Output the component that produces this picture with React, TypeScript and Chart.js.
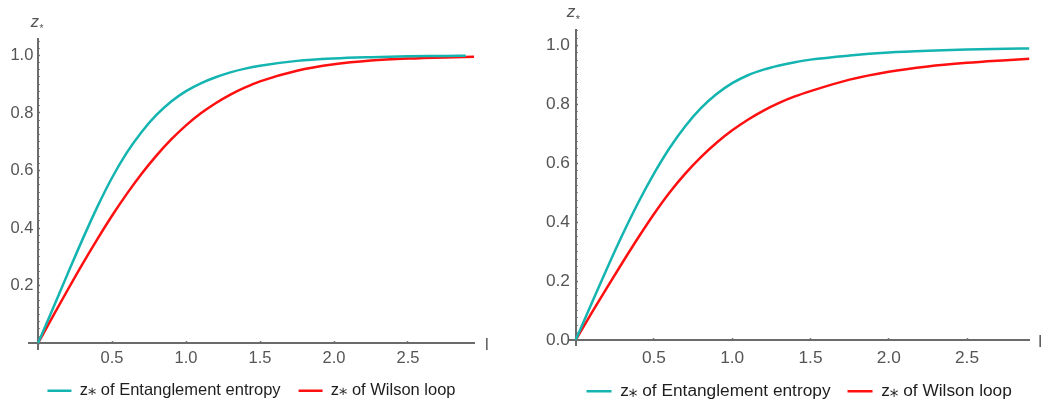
import React, { useEffect, useRef } from 'react';
import { Chart, registerables } from 'chart.js';

Chart.register(...registerables);

// ---------- data ----------
// Left panel
const leftEntL = [0, 0.1, 0.2, 0.3, 0.4, 0.5, 0.6, 0.7, 0.8, 0.9, 1.0, 1.1, 1.2, 1.3, 1.4, 1.5, 1.75, 2.0, 2.25, 2.5, 2.75, 2.89];
const leftEntZ = [0, 0.12, 0.241, 0.36, 0.473, 0.575, 0.662, 0.734, 0.793, 0.84, 0.876, 0.903, 0.924, 0.941, 0.954, 0.964, 0.981, 0.9895, 0.994, 0.997, 0.998, 0.999];
const leftWilL = [0, 0.1, 0.2, 0.3, 0.4, 0.5, 0.6, 0.7, 0.8, 0.9, 1.0, 1.1, 1.2, 1.3, 1.4, 1.5, 1.75, 2.0, 2.25, 2.5, 2.75, 2.95];
const leftWilZ = [0, 0.093, 0.185, 0.275, 0.361, 0.443, 0.519, 0.589, 0.652, 0.708, 0.757, 0.799, 0.834, 0.864, 0.889, 0.91, 0.947, 0.969, 0.982, 0.989, 0.993, 0.995];

// Right panel
const rightEntL = [0, 0.1, 0.2, 0.3, 0.4, 0.5, 0.6, 0.7, 0.8, 0.9, 1.0, 1.1, 1.2, 1.3, 1.4, 1.5, 1.75, 2.0, 2.25, 2.5, 2.75, 2.9];
const rightEntZ = [0, 0.122, 0.243, 0.359, 0.467, 0.565, 0.652, 0.726, 0.787, 0.835, 0.872, 0.899, 0.918, 0.932, 0.943, 0.952, 0.966, 0.976, 0.982, 0.986, 0.989, 0.99];
const rightWilL = [0, 0.1, 0.2, 0.3, 0.4, 0.5, 0.6, 0.7, 0.8, 0.9, 1.0, 1.1, 1.2, 1.3, 1.4, 1.5, 1.75, 2.0, 2.25, 2.5, 2.75, 2.9];
const rightWilZ = [0, 0.09, 0.178, 0.264, 0.348, 0.428, 0.501, 0.565, 0.621, 0.67, 0.712, 0.748, 0.779, 0.805, 0.827, 0.845, 0.884, 0.911, 0.929, 0.941, 0.95, 0.955];

// ticks & labels
const xTickValues = [0.5, 1.0, 1.5, 2.0, 2.5];
const xTickLabels = ['0.5', '1.0', '1.5', '2.0', '2.5'];
const leftYTickValues = [0.2, 0.4, 0.6, 0.8, 1.0];
const leftYTickLabels = ['0.2', '0.4', '0.6', '0.8', '1.0'];
const rightYTickValues = [0, 0.2, 0.4, 0.6, 0.8, 1.0];
const rightYTickLabels = ['0.0', '0.2', '0.4', '0.6', '0.8', '1.0'];
const yMinorTickValues = Array.from({ length: 43 }, (_, i) => Math.round(i * 25) / 1000);

const seriesNames = ['z\u204E of Entanglement entropy', 'z\u204E of Wilson loop'];
const axisYName = 'z';
const axisXName = 'l';

const TEAL = '#14b4b1';
const RED = '#ff1010';
const FONT = "'Liberation Sans', 'DejaVu Sans', Arial, sans-serif";

const toPoints = (xs: number[], ys: number[]) => xs.map((x, i) => ({ x, y: ys[i] }));

const axisLabelPlugin = {
  id: 'axisLabels',
  afterDraw(chart: any, _args: any, opts: any) {
    const { ctx, chartArea, scales } = chart;
    const x0 = scales.x.getPixelForValue(0);
    const y0 = scales.y.getPixelForValue(0);
    ctx.save();
    ctx.fillStyle = '#555';
    ctx.textAlign = 'left';
    ctx.textBaseline = 'alphabetic';
    ctx.font = `italic ${opts.size}px ${FONT}`;
    const zx = x0 + opts.zdx;
    const zy = chartArea.top + opts.zdy;
    ctx.fillText(axisYName, zx, zy);
    const zw = ctx.measureText(axisYName).width;
    ctx.font = `${opts.size * 0.62}px ${FONT}`;
    ctx.fillText('*', zx + zw + 0.5, zy + opts.size * 0.33);
    ctx.font = `${opts.size}px ${FONT}`;
    ctx.fillText(axisXName, chartArea.right + opts.ldx, y0 + opts.ldy);
    ctx.restore();
  },
};

type PanelCfg = {
  width: number;
  height: number;
  entL: number[];
  entZ: number[];
  wilL: number[];
  wilZ: number[];
  yTicks: number[];
  yLabels: string[];
  xMin: number;
  xMax: number;
  yMin: number;
  yMax: number;
  pad: { left: number; right: number; top: number };
  spacer: number;
  fontSize: number;
  legendPad: number;
  boxWidth: number;
  xTickPad: number;
  yLabelPad: number;
  zdx: number;
  zdy: number;
  ldx: number;
  ldy: number;
};

function Panel({ cfg }: { cfg: PanelCfg }) {
  const ref = useRef<HTMLCanvasElement | null>(null);
  useEffect(() => {
    if (!ref.current) return;
    const tickFont = { family: FONT, size: cfg.fontSize };
    const chart = new Chart(ref.current, {
      type: 'line',
      data: {
        datasets: [
          {
            label: seriesNames[0],
            data: toPoints(cfg.entL, cfg.entZ),
            borderColor: TEAL,
            backgroundColor: TEAL,
            borderWidth: 2.5,
            pointRadius: 0,
            cubicInterpolationMode: 'monotone',
          },
          {
            label: seriesNames[1],
            data: toPoints(cfg.wilL, cfg.wilZ),
            borderColor: RED,
            backgroundColor: RED,
            borderWidth: 2.5,
            pointRadius: 0,
            cubicInterpolationMode: 'monotone',
          },
        ],
      },
      options: {
        responsive: false,
        animation: false,
        events: [],
        layout: { padding: { left: cfg.pad.left, right: cfg.pad.right, top: cfg.pad.top, bottom: 0 } },
        scales: {
          x: {
            type: 'linear',
            position: { y: 0 } as any,
            min: cfg.xMin,
            max: cfg.xMax,
            afterBuildTicks: (s: any) => {
              s.ticks = xTickValues.map((v) => ({ value: v }));
            },
            ticks: {
              autoSkip: false,
              maxRotation: 0,
              padding: cfg.xTickPad,
              color: '#555',
              font: tickFont,
              callback: (v: any) => {
                const i = xTickValues.indexOf(Number(v));
                return i >= 0 ? xTickLabels[i] : '';
              },
            },
            grid: {
              display: true,
              drawOnChartArea: false,
              drawTicks: true,
              tickLength: -3,
              tickColor: '#777',
              tickWidth: 1.5,
            },
            border: { display: true, color: '#6b6b6b', width: 2 },
          },
          y: {
            type: 'linear',
            position: { x: 0 } as any,
            min: cfg.yMin,
            max: cfg.yMax,
            afterBuildTicks: (s: any) => {
              s.ticks = yMinorTickValues
                .filter((v) => v <= cfg.yMax)
                .map((v) => ({ value: v, major: Math.abs(Math.round(v * 5) - v * 5) < 1e-6 }));
            },
            ticks: { display: false, autoSkip: false },
            grid: {
              display: true,
              drawOnChartArea: false,
              drawTicks: true,
              tickLength: -3,
              tickColor: (c: any) => (c.tick && c.tick.major ? '#6b6b6b' : '#8a8a8a'),
              tickWidth: (c: any) => (c.tick && c.tick.major ? 1.5 : 1),
            },
            border: { display: true, color: '#6b6b6b', width: 2 },
          },
          yl: {
            type: 'linear',
            axis: 'y',
            position: 'left',
            min: cfg.yMin,
            max: cfg.yMax,
            afterBuildTicks: (s: any) => {
              s.ticks = cfg.yTicks.map((v) => ({ value: v }));
            },
            ticks: {
              autoSkip: false,
              mirror: true,
              crossAlign: 'far',
              padding: cfg.yLabelPad,
              color: '#555',
              font: tickFont,
              callback: (v: any) => {
                const i = cfg.yTicks.findIndex((t) => Math.abs(t - Number(v)) < 1e-6);
                return i >= 0 ? cfg.yLabels[i] : '';
              },
            },
            grid: { display: false, drawTicks: false },
            border: { display: false },
            afterFit: (s: any) => {
              s.width = 0;
            },
          } as any,
          sp: {
            type: 'linear',
            axis: 'x',
            position: 'bottom',
            display: true,
            grid: { display: false, drawTicks: false },
            border: { display: false },
            ticks: { display: false },
            afterFit: (s: any) => {
              s.height = cfg.spacer;
            },
          } as any,
        },
        plugins: {
          legend: {
            display: true,
            position: 'bottom',
            labels: {
              color: '#1e1e1e',
              font: { family: FONT, size: cfg.fontSize },
              boxWidth: cfg.boxWidth,
              boxHeight: 2.5,
              padding: cfg.legendPad,
              generateLabels: (ch: any) =>
                Chart.defaults.plugins.legend.labels.generateLabels(ch).map((l: any) => ({ ...l, lineWidth: 0 })),
            },
          },
          tooltip: { enabled: false },
          axisLabels: {
            size: cfg.fontSize,
            zdx: cfg.zdx,
            zdy: cfg.zdy,
            ldx: cfg.ldx,
            ldy: cfg.ldy,
          },
        } as any,
      },
      plugins: [axisLabelPlugin as any],
    } as any);
    return () => chart.destroy();
  }, [cfg]);
  return <canvas ref={ref} width={cfg.width} height={cfg.height} style={{ display: 'block' }} />;
}

const leftCfg: PanelCfg = {
  width: 520,
  height: 409,
  entL: leftEntL,
  entZ: leftEntZ,
  wilL: leftWilL,
  wilZ: leftWilZ,
  yTicks: leftYTickValues,
  yLabels: leftYTickLabels,
  xMin: -0.061,
  xMax: 2.946,
  yMin: -0.0226,
  yMax: 1.057,
  pad: { left: 29, right: 46, top: 39 },
  spacer: 14.75,
  fontSize: 16.5,
  legendPad: 18,
  boxWidth: 24,
  xTickPad: 8.6,
  yLabelPad: -18.6,
  zdx: -7.3,
  zdy: -12,
  ldx: 11,
  ldy: 6.5,
};

const rightCfg: PanelCfg = {
  width: 521,
  height: 410,
  entL: rightEntL,
  entZ: rightEntZ,
  wilL: rightWilL,
  wilZ: rightWilZ,
  yTicks: rightYTickValues,
  yLabels: rightYTickLabels,
  xMin: -0.0428,
  xMax: 2.898,
  yMin: -0.017,
  yMax: 1.0526,
  pad: { left: 49, right: 11.7, top: 30 },
  spacer: 20.7,
  fontSize: 17.3,
  legendPad: 17,
  boxWidth: 25,
  xTickPad: 11.1,
  yLabelPad: -23.05,
  zdx: -9,
  zdy: -13,
  ldx: 9,
  ldy: 7,
};

export default function App() {
  return (
    <div
      style={{
        position: 'absolute',
        left: 0,
        top: 0,
        width: 1041,
        height: 400,
        overflow: 'hidden',
        background: '#fff',
        display: 'flex',
        alignItems: 'flex-start',
      }}
    >
      <Panel cfg={leftCfg} />
      <Panel cfg={rightCfg} />
    </div>
  );
}
